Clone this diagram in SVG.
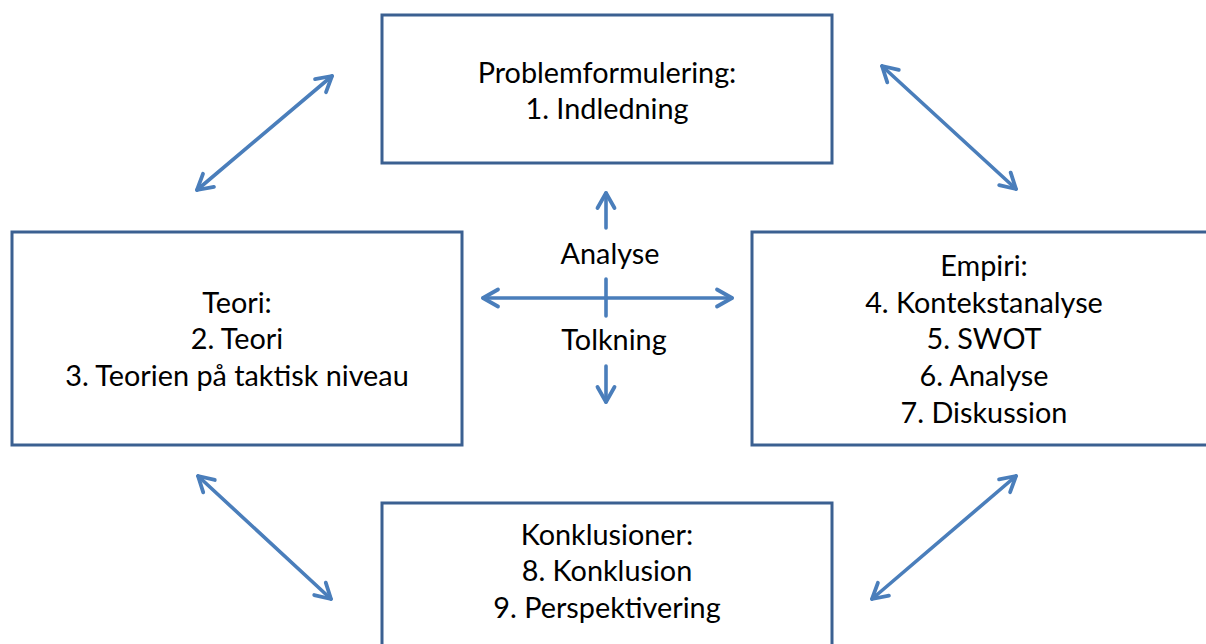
<svg xmlns="http://www.w3.org/2000/svg" width="1206" height="644" viewBox="0 0 1206 644">
  <style>
    .box { fill: #ffffff; stroke: #3B6091; stroke-width: 3; }
    .lbl { font-family: Lato, "Open Sans", "Liberation Sans", sans-serif; font-size: 28.8px; fill: #000000; text-anchor: middle; }
    .link { fill: none; stroke: #4A7EBB; stroke-width: 3.6; stroke-linecap: round; }
  </style>
  <defs>
    <marker id="open-arrow" viewBox="-20 -12 24 24" refX="0" refY="0" markerWidth="24" markerHeight="24" markerUnits="userSpaceOnUse" orient="auto-start-reverse">
      <path d="M -15 -8.5 L 0 0 L -15 8.5" fill="none" stroke="#4A7EBB" stroke-width="3.8" stroke-linecap="round" stroke-linejoin="round"/>
    </marker>
  </defs>

  <rect width="1206" height="644" fill="#ffffff"/>

  <!-- connectors -->
  <g id="connectors">
    <line class="link" x1="197" y1="190" x2="332" y2="76" marker-start="url(#open-arrow)" marker-end="url(#open-arrow)"/>
    <line class="link" x1="882" y1="66" x2="1016" y2="189" marker-start="url(#open-arrow)" marker-end="url(#open-arrow)"/>
    <line class="link" x1="198" y1="476" x2="331" y2="599" marker-start="url(#open-arrow)" marker-end="url(#open-arrow)"/>
    <line class="link" x1="872" y1="599" x2="1016" y2="476" marker-start="url(#open-arrow)" marker-end="url(#open-arrow)"/>
    <!-- central cross -->
    <line class="link" x1="606" y1="228" x2="606" y2="193" marker-end="url(#open-arrow)"/>
    <line class="link" x1="483" y1="298" x2="732" y2="298" marker-start="url(#open-arrow)" marker-end="url(#open-arrow)"/>
    <line class="link" x1="606" y1="279" x2="606" y2="316"/>
    <line class="link" x1="606" y1="366" x2="606" y2="402" marker-end="url(#open-arrow)"/>
  </g>

  <g id="center-labels">
    <text class="lbl" x="610" y="264">Analyse</text>
    <text class="lbl" x="614" y="350">Tolkning</text>
  </g>

  <g id="node-problem">
    <rect class="box" x="382" y="15" width="450" height="148"/>
    <text class="lbl" x="607" y="83">Problemformulering:</text>
    <text class="lbl" x="607" y="119">1. Indledning</text>
  </g>

  <g id="node-teori">
    <rect class="box" x="12" y="232" width="450" height="213"/>
    <text class="lbl" x="237" y="313">Teori:</text>
    <text class="lbl" x="237" y="349">2. Teori</text>
    <text class="lbl" x="237" y="386">3. Teorien på taktisk niveau</text>
  </g>

  <g id="node-empiri">
    <rect class="box" x="752" y="232" width="464" height="213"/>
    <text class="lbl" x="984" y="276">Empiri:</text>
    <text class="lbl" x="984" y="313">4. Kontekstanalyse</text>
    <text class="lbl" x="984" y="349">5. SWOT</text>
    <text class="lbl" x="984" y="386">6. Analyse</text>
    <text class="lbl" x="984" y="423">7. Diskussion</text>
  </g>

  <g id="node-konklusion">
    <rect class="box" x="382" y="503" width="450" height="160"/>
    <text class="lbl" x="607" y="545">Konklusioner:</text>
    <text class="lbl" x="607" y="581">8. Konklusion</text>
    <text class="lbl" x="607" y="618">9. Perspektivering</text>
  </g>
</svg>
